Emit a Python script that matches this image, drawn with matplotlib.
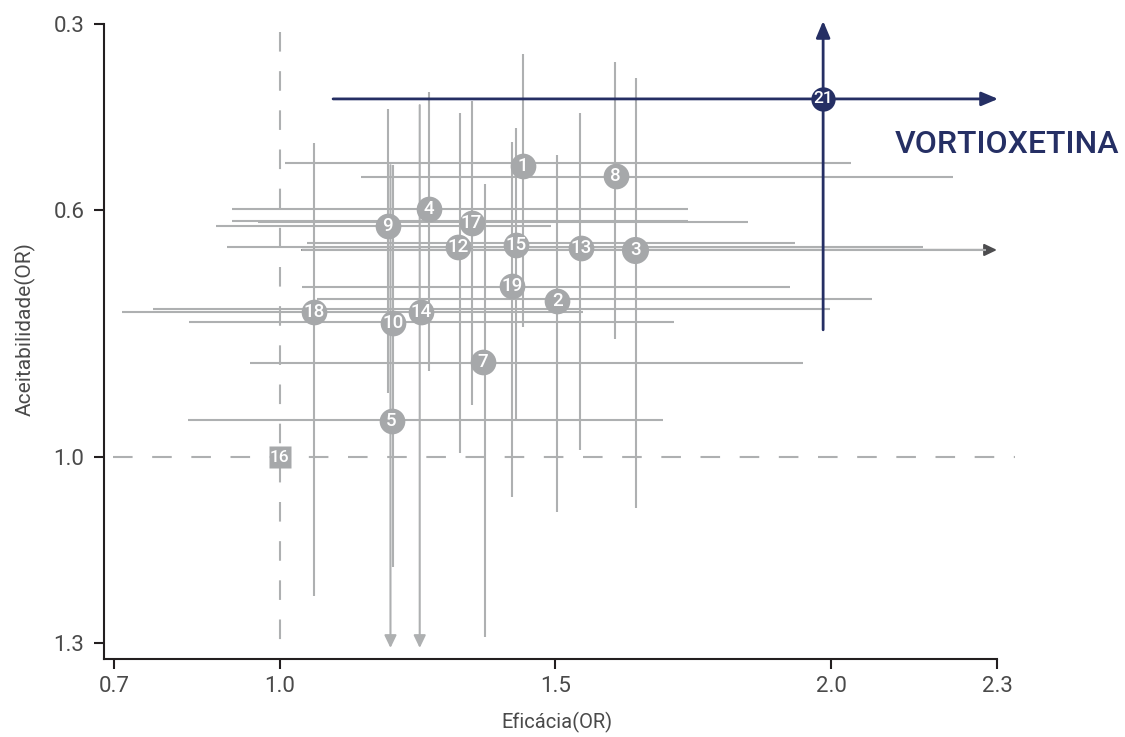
import matplotlib.pyplot as plt

plt.rcParams['font.family'] = ['Roboto', 'DejaVu Sans']

# treatment markers: efficacy OR (x), acceptability OR (y)
labels = ['1', '2', '3', '4', '5', '7', '8', '9', '10', '12', '13', '14', '15', '17', '18', '19']
eff = [1.441, 1.503, 1.645, 1.271, 1.203, 1.369, 1.609, 1.196, 1.205, 1.324, 1.547, 1.256, 1.428, 1.348, 1.062, 1.421]
acc = [0.529, 0.748, 0.665, 0.599, 0.941, 0.846, 0.546, 0.626, 0.783, 0.661, 0.662, 0.766, 0.657, 0.621, 0.766, 0.724]

# horizontal intervals (efficacy)
h_y = [0.525, 0.547, 0.599, 0.618, 0.620, 0.626, 0.653, 0.660, 0.725, 0.745, 0.760, 0.765, 0.781, 0.847, 0.940]
h_lo = [1.010, 1.148, 0.914, 0.914, 0.961, 0.885, 1.050, 0.905, 1.041, 1.068, 0.771, 0.714, 0.836, 0.946, 0.834]
h_hi = [2.035, 2.220, 1.740, 1.740, 1.849, 1.492, 1.934, 2.166, 1.925, 2.073, 1.997, 1.550, 1.715, 1.948, 1.695]
# horizontal interval running off the chart (arrow)
ha_y, ha_lo, ha_hi = [0.665], [1.041], [2.300]

# vertical intervals (acceptability)
v_x = [1.062, 1.196, 1.206, 1.271, 1.327, 1.348, 1.372, 1.422, 1.428, 1.442, 1.502, 1.544, 1.608, 1.646]
v_lo = [0.492, 0.437, 0.528, 0.410, 0.444, 0.424, 0.558, 0.491, 0.468, 0.348, 0.512, 0.444, 0.361, 0.387]
v_hi = [1.224, 0.896, 1.177, 0.861, 0.993, 0.916, 1.290, 1.064, 0.941, 0.790, 1.088, 0.988, 0.809, 1.082]
# vertical intervals running off the chart (arrows)
va_x, va_lo, va_hi = [1.201, 1.254], [0.528, 0.431], [1.308, 1.308]

# reboxetine (reference) and vortioxetine
ref_label, ref_x, ref_y = '16', 1.0, 1.0
vort_label, vort_x, vort_y = '21', 1.985, 0.421
vort_xlo, vort_xhi = 1.097, 2.302
vort_ylo, vort_yhi = 0.295, 0.794

grey = '#aeb0b1'
mgrey = '#a6a8aa'
navy = '#252f64'
dark = '#231f20'
txt = '#4a4a4a'

fig = plt.figure(figsize=(11.25, 7.37), dpi=100)
ax = fig.add_axes([104 / 1125, 78 / 737, 1021 / 1125, 659 / 737])
ax.set_xlim(0.6819, 2.532)
ax.set_ylim(1.3258, 0.2612)

# reference dashed lines
ax.plot([0.698, 2.333], [1.0, 1.0], color=grey, lw=1.5, ls=(0, (9.4, 9.4)), zorder=1)
ax.plot([1.0, 1.0], [0.313, 1.32], color=grey, lw=1.5, ls=(0, (9.4, 9.4)), zorder=1)

for y, lo, hi in zip(h_y, h_lo, h_hi):
    ax.plot([lo, hi], [y, y], color=grey, lw=1.5, zorder=1, solid_capstyle='butt')
for x, lo, hi in zip(v_x, v_lo, v_hi):
    ax.plot([x, x], [lo, hi], color=grey, lw=1.5, zorder=1, solid_capstyle='butt')

for x, lo, hi in zip(va_x, va_lo, va_hi):
    ax.annotate('', xy=(x, hi), xytext=(x, lo),
                arrowprops=dict(arrowstyle='-|>,head_length=0.75,head_width=0.36',
                                color=grey, lw=1.5, shrinkA=0, shrinkB=0), zorder=1)
for y, lo, hi in zip(ha_y, ha_lo, ha_hi):
    ax.annotate('', xy=(hi, y), xytext=(lo, y),
                arrowprops=dict(arrowstyle='-|>,head_length=0.75,head_width=0.36',
                                color='#4d4d4f', lw=1.5, shrinkA=0, shrinkB=0), zorder=1)
    ax.plot([lo, hi - 0.02], [y, y], color=grey, lw=1.5, zorder=1.5, solid_capstyle='butt')

# vortioxetine cross
ax.annotate('', xy=(vort_xhi, vort_y), xytext=(vort_xlo, vort_y),
            arrowprops=dict(arrowstyle='-|>,head_length=1.0,head_width=0.42',
                            color=navy, lw=2, shrinkA=0, shrinkB=0), zorder=2)
ax.annotate('', xy=(vort_x, vort_ylo), xytext=(vort_x, vort_yhi),
            arrowprops=dict(arrowstyle='-|>,head_length=1.0,head_width=0.42',
                            color=navy, lw=2, shrinkA=0, shrinkB=0), zorder=2)

# markers
for lab, x, y in zip(labels, eff, acc):
    ms = 19.5 if lab == '3' else 18.5
    ax.plot(x, y, 'o', ms=ms, color=mgrey, mec='none', zorder=3)
    ax.text(x, y, lab, color='white', fontsize=13.5, fontweight='medium',
            ha='center', va='center', zorder=4)

ax.plot(ref_x, ref_y, 's', ms=16, color=mgrey, mec='none', zorder=3)
ax.text(ref_x, ref_y, ref_label, color='white', fontsize=12.5, fontweight='medium',
        ha='center', va='center', zorder=4)

ax.plot(vort_x, vort_y, 'o', ms=17.5, color=navy, mec='none', zorder=3)
ax.text(vort_x, vort_y, vort_label, color='white', fontsize=12.5, fontweight='medium',
        ha='center', va='center', zorder=4)
ax.text(2.115, 0.494, 'VORTIOXETINA', color=navy, fontsize=23, fontweight='medium',
        ha='left', va='center')

# axes styling
for s in ['top', 'right']:
    ax.spines[s].set_visible(False)
for s in ['left', 'bottom']:
    ax.spines[s].set_linewidth(1.5)
    ax.spines[s].set_color(dark)
ax.spines['left'].set_bounds(0.3, 1.3258)
ax.spines['bottom'].set_bounds(0.6819, 2.3)

ax.set_xticks([0.7, 1.0, 1.5, 2.0, 2.3])
ax.set_xticklabels(['0.7', '1.0', '1.5', '2.0', '2.3'])
ax.set_yticks([0.3, 0.6, 1.0, 1.3])
ax.set_yticklabels(['0.3', '0.6', '1.0', '1.3'])
ax.tick_params(direction='out', length=7, width=1.5, color=dark,
               labelsize=16, labelcolor=txt)
ax.tick_params(axis='x', pad=5)
ax.tick_params(axis='y', pad=7)

ax.set_xlabel('Eficácia(OR)', fontsize=14.5, color=txt)
ax.xaxis.set_label_coords(0.4437, -0.081)
ax.set_ylabel('Aceitabilidade(OR)', fontsize=15, color=txt)
ax.yaxis.set_label_coords(-0.067, 0.5)

fig.savefig('out.png', dpi=100)
